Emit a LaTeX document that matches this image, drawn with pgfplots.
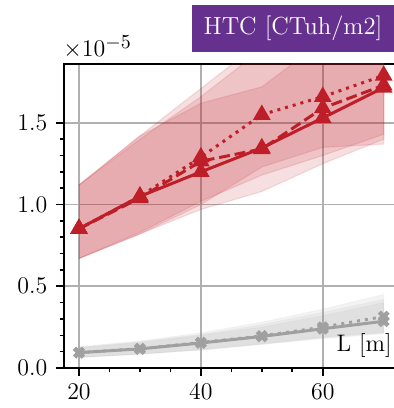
\documentclass[border=0pt]{standalone}
\usepackage{pgfplots}
\pgfplotsset{compat=1.18}
\definecolor{myred}{RGB}{190,30,40}
\definecolor{mygray}{RGB}{160,160,160}
\definecolor{mypurple}{RGB}{102,48,143}
\definecolor{gridgray}{RGB}{176,176,176}
\begin{document}
\fontsize{12}{14}\selectfont
\begin{tikzpicture}
\useasboundingbox (0,0) rectangle (197bp,204bp);
\begin{axis}[
  at={(31.875bp,20bp)}, anchor=south west,
  width=167.6bp, height=152bp, scale only axis,
  xmin=17.5, xmax=72.5, ymin=0, ymax=1.86,
  xtick={20,40,60}, ytick={0,0.5,1.0,1.5},
  minor x tick num=3, minor y tick num=4,
  xtick pos=left, ytick pos=left,
  tick align=outside,
  major tick length=4bp, minor tick length=2bp,
  every tick/.style={black, line width=0.8bp},
  axis line style={black, line width=1bp},
  grid=major,
  major grid style={gridgray, line width=0.8bp},
  yticklabel style={/pgf/number format/.cd, fixed, fixed zerofill, precision=1},
  every tick label/.append style={font=\fontsize{12}{14}\selectfont},
  clip=true,
]
% gray bands
\addplot[fill=mygray, fill opacity=0.12, draw=mygray, draw opacity=0.08, line width=0.5bp] coordinates {
(20,0.065) (30,0.085) (40,0.11) (50,0.145) (60,0.18) (70,0.21)
(70,0.40) (60,0.32) (50,0.25) (40,0.20) (30,0.155) (20,0.125)};
\addplot[fill=mygray, fill opacity=0.12, draw=mygray, draw opacity=0.08, line width=0.5bp] coordinates {
(20,0.065) (30,0.085) (40,0.115) (50,0.15) (60,0.19) (70,0.22)
(70,0.45) (60,0.36) (50,0.28) (40,0.215) (30,0.165) (20,0.13)};
\addplot[fill=mygray, fill opacity=0.12, draw=mygray, draw opacity=0.08, line width=0.5bp] coordinates {
(20,0.065) (30,0.085) (40,0.11) (50,0.145) (60,0.185) (70,0.215)
(70,0.42) (60,0.34) (50,0.265) (40,0.205) (30,0.16) (20,0.125)};
% red bands
\addplot[fill=myred, fill opacity=0.14, draw=myred, draw opacity=0.12, line width=0.6bp] coordinates {
(20,0.67) (30,0.82) (40,0.97) (50,1.08) (60,1.25) (70,1.40)
(70,2.2) (60,2.0) (50,1.72) (40,1.62) (30,1.42) (20,1.12)};
\addplot[fill=myred, fill opacity=0.14, draw=myred, draw opacity=0.12, line width=0.6bp] coordinates {
(20,0.67) (30,0.82) (40,1.00) (50,1.23) (60,1.35) (70,1.37)
(70,2.4) (60,2.2) (50,2.0) (40,1.71) (30,1.42) (20,1.12)};
\addplot[fill=myred, fill opacity=0.14, draw=myred, draw opacity=0.12, line width=0.6bp] coordinates {
(20,0.67) (30,0.83) (40,1.02) (50,1.18) (60,1.30) (70,1.43)
(70,2.4) (60,2.2) (50,1.95) (40,1.66) (30,1.40) (20,1.12)};
% gray lines
\addplot[mygray, line width=1.5bp, dash pattern=on 1.5bp off 2.5bp, mark=x, mark size=3.1bp, mark options={solid, line width=2.2bp}] coordinates {
(20,0.094) (30,0.118) (40,0.156) (50,0.196) (60,0.25) (70,0.315)};
\addplot[mygray, line width=1.5bp, mark=x, mark size=3.1bp, mark options={solid, line width=2.2bp}] coordinates {
(20,0.094) (30,0.117) (40,0.153) (50,0.193) (60,0.24) (70,0.286)};
% red lines
\addplot[myred, line width=1.5bp, dash pattern=on 1.5bp off 2.5bp, mark=triangle*, mark size=3.6bp, mark options={solid}] coordinates {
(20,0.852) (30,1.05) (40,1.29) (50,1.55) (60,1.66) (70,1.79)};
\addplot[myred, line width=1.5bp, dash pattern=on 5.5bp off 2.4bp, mark=triangle*, mark size=3.6bp, mark options={solid}] coordinates {
(20,0.852) (30,1.04) (40,1.265) (50,1.34) (60,1.59) (70,1.73)};
\addplot[myred, line width=1.5bp, mark=triangle*, mark size=3.6bp, mark options={solid}] coordinates {
(20,0.852) (30,1.05) (40,1.20) (50,1.346) (60,1.53) (70,1.716)};
\end{axis}
\node[anchor=base east, inner sep=0pt] at (196bp,28.5bp) {L [m]};
\node[anchor=base west, inner sep=0pt] at (31.5bp,175.5bp) {$\times10^{\mbox{\fontsize{10}{12}\selectfont$-5$}}$};
\node[fill=mypurple, text=white, minimum width=101bp, minimum height=23.5bp, inner sep=0pt, font=\fontsize{12.4}{14}\selectfont] at (146.5bp,189.75bp) {HTC [CTuh/m2]};
\end{tikzpicture}
\end{document}
